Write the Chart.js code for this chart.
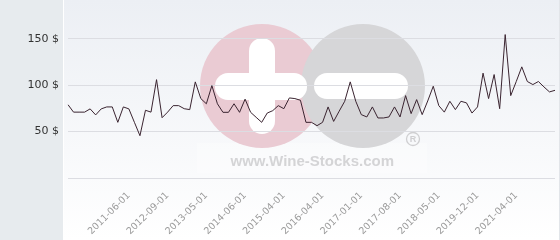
<!DOCTYPE html>
<html>
<head>
<meta charset="utf-8">
<script src="https://cdn.jsdelivr.net/npm/chart.js@4/dist/chart.umd.min.js"></script>
<style>
html,body{margin:0;padding:0;background:#fff;}
#wrap{width:560px;height:240px;position:relative;}
</style>
</head>
<body>
<div id="wrap"><canvas id="c" width="560" height="240"></canvas></div>
<script>
const dates = [
"2010-07-01","2010-08-01","2010-09-01","2010-10-01","2010-11-01","2010-12-01","2011-01-01","2011-02-01","2011-03-01","2011-04-01",
"2011-05-01","2011-06-01","2011-08-01","2011-10-01","2011-12-01","2012-02-01","2012-04-01","2012-06-01","2012-09-01","2012-10-01",
"2012-11-01","2012-12-01","2013-01-01","2013-02-01","2013-03-01","2013-05-01","2013-07-01","2013-09-01","2013-11-01","2014-01-01",
"2014-03-01","2014-04-01","2014-06-01","2014-07-01","2014-08-01","2014-10-01","2014-11-01","2015-01-01","2015-02-01","2015-04-01",
"2015-06-01","2015-08-01","2015-10-01","2015-12-01","2016-01-01","2016-02-01","2016-04-01","2016-05-01","2016-06-01","2016-07-01",
"2016-09-01","2016-10-01","2016-11-01","2017-01-01","2017-02-01","2017-03-01","2017-04-01","2017-05-01","2017-06-01","2017-07-01",
"2017-08-01","2017-09-01","2017-10-01","2017-11-01","2018-01-01","2018-02-01","2018-03-01","2018-05-01","2018-08-01","2018-11-01",
"2019-02-01","2019-05-01","2019-07-01","2019-09-01","2019-12-01","2020-02-01","2020-05-01","2020-07-01","2020-09-01","2020-11-01",
"2021-01-01","2021-04-01","2021-06-01","2021-08-01","2021-10-01","2021-12-01","2022-02-01","2022-04-01","2022-06-01"
];
const prices = [
79,71,71,71,74.5,68,74.5,76.6,76.6,60,
76.6,74.5,60,45.6,73,71,106,65,71,78,
78,74.7,73.7,103.6,85.6,80,99.6,80,70.8,70.8,
80,70.8,85,70.8,65.4,60,70,72.6,78,74.7,
86.3,85.6,83.8,60,60,56.4,60,76.6,61,72,
82.7,103.6,82.7,68.3,65.8,76.6,64.7,64.7,65.8,76.6,
65.8,88.8,69.4,84.5,68.3,83,98.9,78,71,82.7,
73.7,82.7,81,70,76.6,113,85.6,111.5,74.7,154.6,
88.8,104,119.8,104,100.7,104,98.2,92.8,94.5
];
const yTicks = [0, 50, 100, 150];
const shownDates = ["2011-06-01","2012-09-01","2013-05-01","2014-06-01","2015-04-01","2016-04-01",
                    "2017-01-01","2017-08-01","2018-05-01","2019-12-01","2021-04-01"];

function pill(ctx, x, y, w, h, r) {
  ctx.beginPath();
  ctx.moveTo(x + r, y);
  ctx.lineTo(x + w - r, y);
  ctx.arc(x + w - r, y + r, r, -Math.PI/2, 0);
  ctx.lineTo(x + w, y + h - r);
  ctx.arc(x + w - r, y + h - r, r, 0, Math.PI/2);
  ctx.lineTo(x + r, y + h);
  ctx.arc(x + r, y + h - r, r, Math.PI/2, Math.PI);
  ctx.lineTo(x, y + r);
  ctx.arc(x + r, y + r, r, Math.PI, Math.PI*1.5);
  ctx.closePath();
  ctx.fill();
}

const bgPlugin = {
  id: 'bg',
  beforeDraw(chart) {
    const ctx = chart.ctx;
    ctx.save();
    const g = ctx.createLinearGradient(0, 0, 0, 240);
    g.addColorStop(0, '#eceff4');
    g.addColorStop(1, '#ffffff');
    ctx.fillStyle = g;
    ctx.fillRect(63, 0, 497, 240);
    ctx.fillStyle = '#e7ebee';
    ctx.fillRect(0, 0, 63, 240);
    ctx.fillStyle = '#ffffff';
    ctx.fillRect(63, 0, 1, 240);
    ctx.fillStyle = '#e2e5e9';
    ctx.fillRect(559, 0, 1, 240);
    // watermark
    ctx.fillStyle = 'rgba(255,255,255,0.3)';
    ctx.fillRect(197, 143, 230, 30);
    ctx.fillStyle = '#eacbd3';
    ctx.beginPath(); ctx.arc(262, 86, 62, 0, Math.PI*2); ctx.fill();
    ctx.fillStyle = '#d6d6d8';
    ctx.beginPath(); ctx.arc(363, 86, 62, 0, Math.PI*2); ctx.fill();
    ctx.fillStyle = '#ffffff';
    pill(ctx, 249, 38, 26, 96, 13);
    pill(ctx, 215, 73, 92, 27, 13);
    pill(ctx, 314, 73, 94, 26, 13);
    ctx.fillStyle = '#d4d4d6';
    ctx.font = 'bold 15px "Liberation Sans", Arial, sans-serif';
    ctx.textBaseline = 'alphabetic';
    ctx.textAlign = 'left';
    const t = 'www.Wine-Stocks.com';
    const w = ctx.measureText(t).width;
    ctx.save();
    ctx.translate(230.5, 165.5);
    ctx.scale(163.5 / w, 1);
    ctx.fillText(t, 0, 0);
    ctx.restore();
    ctx.strokeStyle = '#cfcfd1';
    ctx.lineWidth = 1.3;
    ctx.beginPath(); ctx.arc(413, 139, 6.5, 0, Math.PI*2); ctx.stroke();
    ctx.fillStyle = '#cfcfd1';
    ctx.font = 'bold 9px "Liberation Sans", Arial, sans-serif';
    ctx.textAlign = 'center';
    ctx.textBaseline = 'middle';
    ctx.fillText('R', 413, 139.5);
    ctx.restore();
  }
};

new Chart(document.getElementById('c'), {
  type: 'line',
  data: {
    labels: dates,
    datasets: [{
      data: prices,
      borderColor: '#3a2430',
      borderWidth: 1,
      pointRadius: 0,
      tension: 0,
      fill: false
    }]
  },
  options: {
    responsive: false,
    animation: false,
    layout: { padding: { top: 11, right: 5, left: 0, bottom: 0 } },
    plugins: { legend: { display: false }, tooltip: { enabled: false } },
    scales: {
      x: {
        offset: false,
        grid: { display: false },
        border: { display: false },
        afterFit(s) { s.height = 62; s.paddingLeft = 0; s.paddingRight = 0; },
        ticks: {
          autoSkip: false,
          minRotation: 45,
          maxRotation: 45,
          padding: 4,
          color: '#9a9a9a',
          font: { family: '"DejaVu Sans", sans-serif', size: 9.5 },
          callback(v, i) {
            return shownDates.includes(dates[i]) ? dates[i] : '';
          }
        }
      },
      y: {
        min: 0,
        max: 180,
        afterBuildTicks(s) { s.ticks = yTicks.map(v => ({ value: v })); },
        afterFit(s) { s.width = 68; s.paddingTop = 0; s.paddingBottom = 0; },
        grid: { color: '#dcdde2', lineWidth: 1, drawTicks: false },
        border: { display: false },
        ticks: {
          padding: 9,
          color: '#333333',
          font: { family: '"DejaVu Sans", sans-serif', size: 11 },
          callback(v) { return v === 0 ? '' : v + ' $'; }
        }
      }
    }
  },
  plugins: [bgPlugin]
});
</script>
</body>
</html>
